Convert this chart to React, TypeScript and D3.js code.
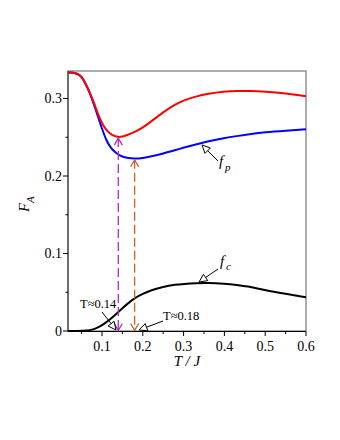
import React from "react";
import * as d3 from "d3";

const tValues = [0.017, 0.03, 0.04, 0.05, 0.06, 0.07, 0.08, 0.09, 0.10, 0.11, 0.12, 0.13, 0.14, 0.15, 0.16, 0.18, 0.20, 0.22, 0.25, 0.28, 0.30, 0.33, 0.36, 0.40, 0.43, 0.46, 0.50, 0.55, 0.60];
const redValues = [0.3335, 0.3333, 0.332, 0.3285, 0.319, 0.308, 0.295, 0.280, 0.268, 0.2595, 0.2545, 0.2515, 0.2502, 0.2507, 0.2525, 0.2565, 0.2625, 0.270, 0.2825, 0.2925, 0.2975, 0.3027, 0.3062, 0.309, 0.3098, 0.3098, 0.309, 0.3068, 0.303];
const fpValues = [0.3335, 0.3333, 0.332, 0.3285, 0.319, 0.3075, 0.293, 0.277, 0.261, 0.2465, 0.2375, 0.2315, 0.2275, 0.225, 0.2235, 0.2223, 0.2232, 0.2252, 0.229, 0.2335, 0.2365, 0.2408, 0.2448, 0.249, 0.2515, 0.2538, 0.2565, 0.2585, 0.2603];
const fcValues = [0, 0, 0, 0.0002, 0.0005, 0.001, 0.0022, 0.0045, 0.0075, 0.011, 0.015, 0.0195, 0.0245, 0.0295, 0.034, 0.0425, 0.048, 0.0525, 0.0572, 0.0598, 0.0608, 0.0618, 0.0621, 0.0611, 0.0596, 0.0575, 0.0525, 0.048, 0.0435];

const xTicks = [0.1, 0.2, 0.3, 0.4, 0.5, 0.6];
const xMinorTicks = [0.05, 0.15, 0.25, 0.35, 0.45, 0.55];
const yTicks = [0, 0.1, 0.2, 0.3];
const yMinorTicks = [0.05, 0.15, 0.25];

const markerTs = [0.14, 0.18];
const markerColors = ["#b02ec0", "#c2622e"];

const x = d3.scaleLinear().domain([0.0167, 0.6]).range([68, 306]);
const y = d3.scaleLinear().domain([0, 0.3355]).range([331, 71]);

const line = (vals: number[]) =>
  d3
    .line<number>()
    .x((_, i) => x(tValues[i]))
    .y((v) => y(v))
    .curve(d3.curveBasis)(vals) as string;

const serif = "'Liberation Serif', 'DejaVu Serif', serif";

function OpenTriangle({ x1, y1, x2, y2 }: { x1: number; y1: number; x2: number; y2: number }) {
  const ang = Math.atan2(y2 - y1, x2 - x1);
  const L = 8, W = 3.8;
  const bx = x2 - L * Math.cos(ang), by = y2 - L * Math.sin(ang);
  const px = -Math.sin(ang) * W, py = Math.cos(ang) * W;
  return (
    <g>
      <line x1={x1} y1={y1} x2={bx} y2={by} stroke="#000" strokeWidth={1} />
      <polygon
        points={`${x2},${y2} ${bx + px},${by + py} ${bx - px},${by - py}`}
        fill="#fff"
        stroke="#000"
        strokeWidth={1}
      />
    </g>
  );
}

function Chevron({ cx, cy, dir, color }: { cx: number; cy: number; dir: number; color: string }) {
  return (
    <path
      d={`M${cx - 4},${cy - dir * 7} L${cx},${cy} L${cx + 4},${cy - dir * 7}`}
      fill="none"
      stroke={color}
      strokeWidth={1.3}
    />
  );
}

export default function App() {
  const markerTops = [
    redValues[tValues.indexOf(markerTs[0])],
    fpValues[tValues.indexOf(markerTs[1])],
  ];
  return (
    <svg
      width={340}
      height={440}
      style={{ position: "absolute", left: 0, top: 0, background: "#fff" }}
      fontFamily={serif}
    >
      <rect x={68} y={71} width={238} height={260} fill="none" stroke="#777" strokeWidth={1.2} />
      <line x1={68} y1={71} x2={68} y2={331} stroke="#444" strokeWidth={1.2} />
      <line x1={68} y1={331.5} x2={306} y2={331.5} stroke="#000" strokeWidth={1.2} />

      {xTicks.map((t) => (
        <g key={"xt" + t}>
          <line x1={x(t)} x2={x(t)} y1={331.5} y2={336} stroke="#000" strokeWidth={1} />
          <text x={x(t)} y={351} fontSize={14} textAnchor="middle" fill="#000">
            {t.toFixed(1)}
          </text>
        </g>
      ))}
      {xMinorTicks.map((t) => (
        <line key={"xm" + t} x1={x(t)} x2={x(t)} y1={331.5} y2={334} stroke="#000" strokeWidth={1} />
      ))}

      {yTicks.map((t) => (
        <g key={"yt" + t}>
          <line x1={63} x2={68} y1={y(t)} y2={y(t)} stroke="#000" strokeWidth={1} />
          <text x={62} y={y(t)} dy="0.35em" fontSize={14} textAnchor="end" fill="#000">
            {t === 0 ? "0" : t.toFixed(1)}
          </text>
        </g>
      ))}
      {yMinorTicks.map((t) => (
        <line key={"ym" + t} x1={65.5} x2={68} y1={y(t)} y2={y(t)} stroke="#000" strokeWidth={1} />
      ))}

      <text x={187} y={366} fontSize={15} fontStyle="italic" textAnchor="middle" fill="#000">
        T / J
      </text>
      <g transform="translate(29,212) rotate(-90)">
        <text x={0} y={0} fontSize={15} fontStyle="italic" fill="#000">F</text>
        <text x={9} y={5} fontSize={11} fontStyle="italic" fill="#000">A</text>
      </g>

      <path d={line(fcValues)} fill="none" stroke="#000" strokeWidth={2} />
      <path d={line(fpValues)} fill="none" stroke="#0000ff" strokeWidth={2} />
      <path d={line(redValues)} fill="none" stroke="#ff0000" strokeWidth={2} />

      {markerTs.map((t, i) => (
        <g key={"mk" + t}>
          <line
            x1={x(t)}
            x2={x(t)}
            y1={y(markerTops[i]) + 1}
            y2={y(0) - 1}
            stroke={markerColors[i]}
            strokeWidth={1.3}
            strokeDasharray="9,4"
          />
          <Chevron cx={x(t)} cy={y(markerTops[i]) + 1} dir={-1} color={markerColors[i]} />
          <Chevron cx={x(t)} cy={y(0) - 0.5} dir={1} color={markerColors[i]} />
        </g>
      ))}

      <text x={80} y={308} fontSize={12.5} fill="#000">T≈0.14</text>
      <OpenTriangle x1={102} y1={312} x2={116} y2={330} />
      <text x={163} y={320} fontSize={12.5} fill="#000">T≈0.18</text>
      <OpenTriangle x1={163} y1={321} x2={139} y2={330} />

      <OpenTriangle x1={218} y1={161} x2={202} y2={145} />
      <text x={219} y={166} fontSize={15} fontStyle="italic" fill="#000">f</text>
      <text x={225} y={171} fontSize={11} fontStyle="italic" fill="#000">p</text>

      <OpenTriangle x1={218} y1={269} x2={199} y2={282} />
      <text x={220} y={266} fontSize={15} fontStyle="italic" fill="#000">f</text>
      <text x={226} y={270} fontSize={11} fontStyle="italic" fill="#000">c</text>
    </svg>
  );
}
